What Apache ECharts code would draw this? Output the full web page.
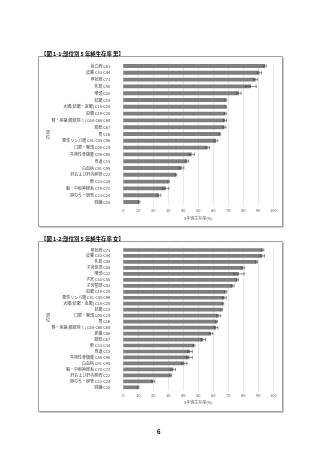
<!DOCTYPE html>
<html><head><meta charset="utf-8">
<script src="https://cdn.jsdelivr.net/npm/echarts@6/dist/echarts.min.js"></script>
<style>html,body{margin:0;padding:0;background:#fff}#c{width:320px;height:453px}</style>
</head><body><div id="c"></div>
<script>
const maleTitle = '【図 1-1:部位別 5 年純生存率 男】';
const femaleTitle = '【図 1-2:部位別 5 年純生存率 女】';
const xName = '5年純生存率(%)';
const yName = '部\n位';
const pageNo = '6';

const maleCats = ['前立腺 C61','皮膚 C43-C44','甲状腺 C73','乳房 C50','喉頭 C32','結腸 C18','大腸(結腸・直腸) C18-C20','直腸 C19-C20','腎・尿路(膀胱除く) C64-C66 C68','膀胱 C67','胃 C16','悪性リンパ腫 C81-C85 C96','口腔・咽頭 C00-C14','多発性骨髄腫 C88-C90','食道 C15','白血病 C91-C95','肝および肝内胆管 C22','肺 C33-C34','脳・中枢神経系 C70-C72','胆のう・胆管 C23-C24','膵臓 C25'];
const maleVals = [94.5,90.7,88.2,85.1,77.1,68.4,68.4,68.0,67.8,67.4,64.4,61.8,56.2,45.6,42.5,38.9,35.1,30.2,28.4,23.8,10.5];
const maleErr  = [0.8,1.5,1.2,3.5,1.5,0.6,0.5,0.7,1.0,1.0,0.5,1.2,1.3,1.8,1.0,1.5,0.6,0.5,2.0,1.2,0.5];

const femaleCats = ['甲状腺 C73','皮膚 C43-C44','乳房 C50','子宮体部 C54','喉頭 C32','子宮 C53-C55','子宮頸部 C53','直腸 C19-C20','悪性リンパ腫 C81-C85 C96','大腸(結腸・直腸) C18-C20','結腸 C18','口腔・咽頭 C00-C14','胃 C16','腎・尿路(膀胱除く) C64-C66 C68','卵巣 C56','膀胱 C67','肺 C33-C34','食道 C15','多発性骨髄腫 C88-C90','白血病 C91-C95','脳・中枢神経系 C70-C72','肝および肝内胆管 C22','胆のう・胆管 C23-C24','膵臓 C25'];
const femaleVals = [92.9,92.7,88.9,79.8,77.1,76.0,72.9,68.2,67.4,66.5,65.6,63.6,62.2,61.8,58.5,53.3,47.1,44.5,44.0,40.7,33.3,31.6,20.0,10.0];
const femaleErr  = [0.8,1.5,0.6,1.0,3.5,0.7,1.0,0.8,1.2,0.5,0.6,1.3,0.5,1.2,1.2,1.5,0.6,1.5,2.0,1.8,1.5,0.6,1.0,0.5];

const FONT = '"Noto Sans CJK JP","Noto Sans",sans-serif';
const BAR = '#7f7f7f';
const chart = echarts.init(document.getElementById('c'), null, {renderer:'canvas'});

function errRender(vals, errs){
  return function(params, api){
    const i = api.value(0);
    const lo = api.coord([vals[i]-errs[i], i]);
    const hi = api.coord([vals[i]+errs[i], i]);
    const h = 1.6;
    const st = {stroke:'#404040', lineWidth:0.6};
    return {type:'group', children:[
      {type:'line', shape:{x1:lo[0],y1:lo[1],x2:hi[0],y2:hi[1]}, style:st},
      {type:'line', shape:{x1:lo[0],y1:lo[1]-h,x2:lo[0],y2:lo[1]+h}, style:st},
      {type:'line', shape:{x1:hi[0],y1:hi[1]-h,x2:hi[0],y2:hi[1]+h}, style:st}
    ]};
  };
}

function xAxis(gi, gap){
  return {gridIndex:gi, type:'value', min:0, max:100, interval:10,
    axisLine:{show:false}, axisTick:{show:false},
    axisLabel:{fontSize:4, color:'#595959', fontFamily:FONT, margin:3},
    splitLine:{lineStyle:{color:'#d9d9d9', width:0.6}},
    name:xName, nameLocation:'middle', nameGap:gap,
    nameTextStyle:{fontSize:4, color:'#595959', fontFamily:FONT}};
}
function yAxis(gi, cats){
  return {gridIndex:gi, type:'category', data:cats, inverse:true,
    axisLine:{show:false}, axisTick:{show:false},
    axisLabel:{fontSize:4, color:'#404040', fontFamily:FONT, margin:13, interval:0}};
}

function box(y){
  return [
    {type:'polyline', shape:{points:[[39.5,y+171.5],[283.5,y+171.5],[283.5,y+1.5]]}, style:{fill:'none', stroke:'#c8c8c8', lineWidth:1}},
    {type:'rect', shape:{x:38.5,y:y+0.5,width:244,height:170}, style:{fill:'none', stroke:'#a0a0a0', lineWidth:1}}
  ];
}

chart.setOption({
  animation:false,
  title:[
    {text:maleTitle, left:36, top:46, textStyle:{fontSize:5.4, fontWeight:'bold', color:'#000', fontFamily:FONT}},
    {text:femaleTitle, left:36, top:231, textStyle:{fontSize:5.4, fontWeight:'bold', color:'#000', fontFamily:FONT}}
  ],
  graphic:[].concat(box(56), box(241), [
    {type:'text', left:46, top:130, style:{text:yName, fill:'#404040', font:'4px '+FONT, lineHeight:5}},
    {type:'text', left:46, top:313, style:{text:yName, fill:'#404040', font:'4px '+FONT, lineHeight:5}},
    {type:'text', left:157, top:429, style:{text:pageNo, fill:'#000', font:'bold 6px '+FONT}}
  ]),
  grid:[
    {left:123.3, top:62.6, width:150, height:142.8},
    {left:123.3, top:247, width:150, height:143.3}
  ],
  xAxis:[xAxis(0, 11), xAxis(1, 10)],
  yAxis:[yAxis(0, maleCats), yAxis(1, femaleCats)],
  series:[
    {type:'bar', xAxisIndex:0, yAxisIndex:0, data:maleVals, barWidth:'58%', itemStyle:{color:BAR}},
    {type:'custom', xAxisIndex:0, yAxisIndex:0, data:maleVals.map((v,i)=>[i]), renderItem:errRender(maleVals, maleErr), encode:{y:0}, z:5},
    {type:'bar', xAxisIndex:1, yAxisIndex:1, data:femaleVals, barWidth:'62%', itemStyle:{color:BAR}},
    {type:'custom', xAxisIndex:1, yAxisIndex:1, data:femaleVals.map((v,i)=>[i]), renderItem:errRender(femaleVals, femaleErr), encode:{y:0}, z:5}
  ]
});
</script></body></html>
